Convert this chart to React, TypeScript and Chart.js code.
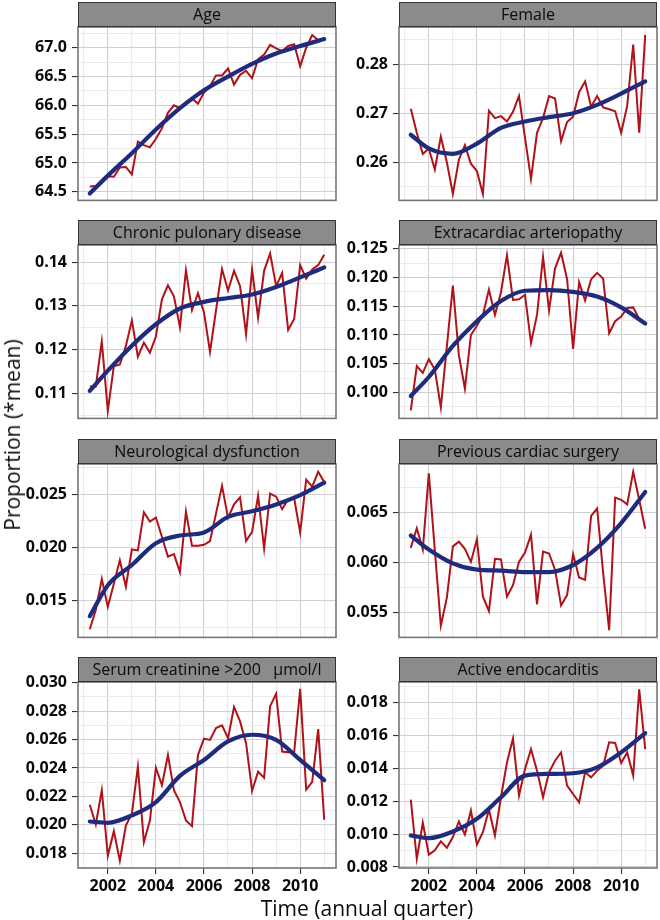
import React, { useEffect, useRef } from 'react';
import { Chart, registerables } from 'chart.js';
Chart.register(...registerables);

// ---------- data ----------
const quarters = [
  2001.25, 2001.5, 2001.75, 2002, 2002.25, 2002.5, 2002.75, 2003, 2003.25, 2003.5,
  2003.75, 2004, 2004.25, 2004.5, 2004.75, 2005, 2005.25, 2005.5, 2005.75, 2006,
  2006.25, 2006.5, 2006.75, 2007, 2007.25, 2007.5, 2007.75, 2008, 2008.25, 2008.5,
  2008.75, 2009, 2009.25, 2009.5, 2009.75, 2010, 2010.25, 2010.5, 2010.75, 2011,
];
const smoothYears = [2001.25, 2002, 2003, 2004, 2005, 2006, 2007, 2008, 2009, 2010, 2011];
const xAllTicks = [2001, 2002, 2003, 2004, 2005, 2006, 2007, 2008, 2009, 2010, 2011];
const xTickLabels = [2002, 2004, 2006, 2008, 2010];

const ageRed = [64.59, 64.60, 64.66, 64.77, 64.76, 64.92, 64.93, 64.80, 65.37, 65.31, 65.27, 65.42, 65.60, 65.87, 66.00, 65.95, 66.05, 66.12, 66.03, 66.22, 66.33, 66.52, 66.52, 66.64, 66.36, 66.53, 66.60, 66.47, 66.80, 66.88, 67.05, 66.99, 66.94, 67.03, 67.06, 66.68, 67.00, 67.22, 67.13, 67.16];
const ageSmooth = [64.47, 64.78, 65.17, 65.58, 65.95, 66.26, 66.50, 66.72, 66.90, 67.03, 67.15];
const ageTicks = [64.5, 65.0, 65.5, 66.0, 66.5, 67.0];

const femaleRed = [0.2709, 0.2660, 0.2617, 0.2628, 0.2585, 0.2652, 0.2600, 0.2535, 0.2605, 0.2635, 0.2597, 0.2582, 0.2535, 0.2705, 0.2690, 0.2694, 0.2683, 0.2703, 0.2735, 0.2650, 0.2566, 0.2660, 0.2690, 0.2735, 0.2730, 0.2643, 0.2682, 0.2693, 0.2743, 0.2765, 0.2713, 0.2735, 0.2712, 0.2708, 0.2704, 0.2660, 0.2715, 0.2840, 0.2660, 0.2860];
const femaleSmooth = [0.2656, 0.2628, 0.2617, 0.2638, 0.2670, 0.2683, 0.2692, 0.2700, 0.2717, 0.2740, 0.2765];
const femaleTicks = [0.26, 0.27, 0.28];

const chronicRed = [0.1116, 0.1116, 0.1219, 0.1060, 0.1162, 0.1166, 0.1208, 0.1267, 0.1184, 0.1216, 0.1193, 0.1230, 0.1315, 0.1347, 0.1322, 0.1251, 0.1381, 0.1290, 0.1329, 0.1285, 0.1195, 0.1290, 0.1384, 0.1335, 0.1380, 0.1345, 0.1235, 0.1383, 0.1273, 0.1380, 0.1420, 0.1345, 0.1375, 0.1245, 0.1270, 0.1393, 0.1362, 0.1383, 0.1393, 0.1417];
const chronicSmooth = [0.1106, 0.1152, 0.1209, 0.1258, 0.1294, 0.1309, 0.1318, 0.1326, 0.1343, 0.1365, 0.1388];
const chronicTicks = [0.11, 0.12, 0.13, 0.14];

const extraRed = [0.0969, 0.1046, 0.1034, 0.1058, 0.1040, 0.0974, 0.1080, 0.1186, 0.1065, 0.1007, 0.1100, 0.1116, 0.1135, 0.1179, 0.1135, 0.1174, 0.1239, 0.1161, 0.1162, 0.1170, 0.1086, 0.1135, 0.1236, 0.1143, 0.1216, 0.1243, 0.1197, 0.1076, 0.1192, 0.1160, 0.1197, 0.1208, 0.1198, 0.1103, 0.1124, 0.1132, 0.1147, 0.1148, 0.1128, 0.1120];
const extraSmooth = [0.0994, 0.1027, 0.1081, 0.1124, 0.1159, 0.1177, 0.1178, 0.1175, 0.1167, 0.1148, 0.1120];
const extraTicks = [0.100, 0.105, 0.110, 0.115, 0.120, 0.125];

const neuroRed = [0.01232, 0.01413, 0.01704, 0.01442, 0.01660, 0.01879, 0.01631, 0.01981, 0.01972, 0.02331, 0.02243, 0.02281, 0.02100, 0.01914, 0.01937, 0.01768, 0.02337, 0.02016, 0.02016, 0.02025, 0.02060, 0.02320, 0.02579, 0.02278, 0.02404, 0.02471, 0.02060, 0.02147, 0.02485, 0.01990, 0.02506, 0.02477, 0.02360, 0.02453, 0.02462, 0.02141, 0.02637, 0.02570, 0.02710, 0.02614];
const neuroSmooth = [0.01354, 0.01646, 0.01835, 0.02040, 0.02112, 0.02141, 0.02287, 0.02340, 0.02404, 0.02491, 0.02608];
const neuroTicks = [0.015, 0.020, 0.025];

const prevRed = [0.06143, 0.06339, 0.06127, 0.06888, 0.06120, 0.05366, 0.05646, 0.06158, 0.06205, 0.06134, 0.06003, 0.06230, 0.05655, 0.05512, 0.06034, 0.06028, 0.05655, 0.05770, 0.06003, 0.06096, 0.06276, 0.05578, 0.06106, 0.06087, 0.05925, 0.05568, 0.05671, 0.06081, 0.05848, 0.05823, 0.06463, 0.06537, 0.05894, 0.05320, 0.06646, 0.06624, 0.06578, 0.06904, 0.06624, 0.06335];
const prevSmooth = [0.06267, 0.06127, 0.05988, 0.05925, 0.05916, 0.05901, 0.05901, 0.05972, 0.06143, 0.06391, 0.06702];
const prevTicks = [0.055, 0.060, 0.065];

const serumRed = [0.02142, 0.02003, 0.02244, 0.01783, 0.01956, 0.01748, 0.01996, 0.02079, 0.02410, 0.01878, 0.02031, 0.02402, 0.02280, 0.02492, 0.02244, 0.02161, 0.02031, 0.01991, 0.02492, 0.02606, 0.02598, 0.02681, 0.02700, 0.02610, 0.02830, 0.02728, 0.02575, 0.02239, 0.02374, 0.02331, 0.02835, 0.02922, 0.02516, 0.02511, 0.02511, 0.02957, 0.02249, 0.02303, 0.02674, 0.02036];
const serumSmooth = [0.02024, 0.02015, 0.02067, 0.02161, 0.02345, 0.02457, 0.02587, 0.02634, 0.02598, 0.02457, 0.02315];
const serumTicks = [0.018, 0.020, 0.022, 0.024, 0.026, 0.028, 0.030];

const endoRed = [0.01210, 0.00850, 0.01069, 0.00875, 0.00901, 0.00956, 0.00917, 0.00982, 0.01077, 0.00998, 0.01143, 0.00937, 0.01012, 0.01150, 0.00992, 0.01224, 0.01436, 0.01582, 0.01234, 0.01396, 0.01517, 0.01386, 0.01224, 0.01376, 0.01446, 0.01497, 0.01295, 0.01244, 0.01194, 0.01376, 0.01345, 0.01386, 0.01416, 0.01558, 0.01554, 0.01432, 0.01497, 0.01356, 0.01881, 0.01517];
const endoSmooth = [0.00992, 0.00976, 0.01016, 0.01093, 0.01224, 0.01356, 0.01366, 0.01370, 0.01406, 0.01497, 0.01614];
const endoTicks = [0.008, 0.010, 0.012, 0.014, 0.016, 0.018];

type PanelDef = {
  title: string;
  red: number[];
  smooth: number[];
  ticks: number[];
  min: number;
  max: number;
  dec: number;
};

const panels: PanelDef[] = [
  { title: 'Age', red: ageRed, smooth: ageSmooth, ticks: ageTicks, min: 64.35, max: 67.36, dec: 1 },
  { title: 'Female', red: femaleRed, smooth: femaleSmooth, ticks: femaleTicks, min: 0.2522, max: 0.2876, dec: 2 },
  { title: 'Chronic pulonary disease', red: chronicRed, smooth: chronicSmooth, ticks: chronicTicks, min: 0.1043, max: 0.1439, dec: 2 },
  { title: 'Extracardiac arteriopathy', red: extraRed, smooth: extraSmooth, ticks: extraTicks, min: 0.0955, max: 0.12565, dec: 3 },
  { title: 'Neurological dysfunction', red: neuroRed, smooth: neuroSmooth, ticks: neuroTicks, min: 0.01156, max: 0.02783, dec: 3 },
  { title: 'Previous cardiac surgery', red: prevRed, smooth: prevSmooth, ticks: prevTicks, min: 0.05248, max: 0.06982, dec: 3 },
  { title: 'Serum creatinine >200   \u00B5mol/l', red: serumRed, smooth: serumSmooth, ticks: serumTicks, min: 0.01697, max: 0.03005, dec: 3 },
  { title: 'Active endocarditis', red: endoRed, smooth: endoSmooth, ticks: endoTicks, min: 0.00794, max: 0.01925, dec: 3 },
];

// ---------- layout ----------
const COL_LEFT = [78, 399];
const ROW_TOP = [2, 220, 439, 657];
const Y_AXIS_W = 70;
const STRIP_H = 25;
const PANEL_W = 258;
const PANEL_H = 186;
const X_AXIS_H = 40;
const RIGHT_PAD = 2;
const FONT = '"Open Sans", "DejaVu Sans", sans-serif';

const RED = '#b0121a';
const BLUE = '#1f2b7d';
const MAJOR_GRID = '#d0d0d0';
const MINOR_GRID = '#ebebeb';

function makeDecor(title: string) {
  return {
    id: 'decor',
    afterDraw(chart: any) {
      const { ctx, chartArea: a } = chart;
      ctx.save();
      // panel border
      ctx.strokeStyle = '#767676';
      ctx.lineWidth = 1.6;
      ctx.strokeRect(a.left, a.top, a.right - a.left, a.bottom - a.top);
      // strip
      ctx.fillStyle = '#8b8b8b';
      ctx.fillRect(a.left, 0, a.right - a.left, STRIP_H);
      ctx.strokeStyle = '#333333';
      ctx.lineWidth = 1;
      ctx.strokeRect(a.left + 0.5, 0.5, a.right - a.left - 1, STRIP_H - 1);
      ctx.fillStyle = '#0a0a0a';
      ctx.font = `16px ${FONT}`;
      ctx.textAlign = 'center';
      ctx.textBaseline = 'middle';
      ctx.fillText(title, (a.left + a.right) / 2, STRIP_H / 2 + 1);
      ctx.restore();
    },
  };
}

function Panel({ def, col, row }: { def: PanelDef; col: number; row: number }) {
  const ref = useRef<HTMLCanvasElement>(null);
  const bottom = row === 3;
  const width = Y_AXIS_W + PANEL_W + RIGHT_PAD;
  const height = STRIP_H + PANEL_H + (bottom ? X_AXIS_H : 2);

  useEffect(() => {
    if (!ref.current) return;
    const step = def.ticks[1] - def.ticks[0];
    const half = step / 2;
    const set = new Set<number>();
    def.ticks.forEach((t) => {
      set.add(+t.toFixed(6));
      set.add(+(t - half).toFixed(6));
      set.add(+(t + half).toFixed(6));
    });
    const yTicks = Array.from(set)
      .filter((v) => v >= def.min && v <= def.max)
      .sort((a, b) => a - b);
    const isMajorY = (v: number) => def.ticks.some((t) => Math.abs(t - v) < half / 10);
    const isMajorX = (v: number) => xTickLabels.some((t) => Math.abs(t - v) < 0.01);

    const chart = new Chart(ref.current, {
      type: 'line',
      data: {
        datasets: [
          {
            data: smoothYears.map((x, i) => ({ x, y: def.smooth[i] })),
            borderColor: BLUE,
            borderWidth: 4.2,
            pointRadius: 0,
            cubicInterpolationMode: 'monotone',
            borderCapStyle: 'round',
            borderJoinStyle: 'round',
            fill: false,
          },
          {
            data: quarters.map((x, i) => ({ x, y: def.red[i] })),
            borderColor: RED,
            borderWidth: 2,
            pointRadius: 0,
            tension: 0,
            fill: false,
          },
        ],
      } as any,
      options: {
        animation: false,
        responsive: false,
        maintainAspectRatio: false,
        events: [],
        layout: { padding: { left: 0, right: RIGHT_PAD, top: STRIP_H, bottom: bottom ? 0 : 2 } },
        plugins: { legend: { display: false }, tooltip: { enabled: false } },
        scales: {
          x: {
            type: 'linear',
            min: 2000.76,
            max: 2011.49,
            afterBuildTicks: (ax: any) => {
              ax.ticks = xAllTicks.map((v) => ({ value: v }));
            },
            afterFit: (ax: any) => {
              ax.height = bottom ? X_AXIS_H : 0;
            },
            grid: {
              color: (c: any) => (isMajorX(c.tick?.value) ? MAJOR_GRID : MINOR_GRID),
              lineWidth: 1.1,
              drawTicks: bottom,
              tickLength: 6,
              tickColor: (c: any) => (isMajorX(c.tick?.value) ? '#333' : 'rgba(0,0,0,0)'),
            },
            border: { display: false },
            ticks: {
              display: bottom,
              autoSkip: false,
              maxRotation: 0,
              padding: 3,
              color: '#0a0a0a',
              font: { family: FONT, size: 16, weight: 'bold' },
              callback: (v: any) => (isMajorX(Number(v)) ? String(Math.round(Number(v))) : ''),
            },
          },
          y: {
            type: 'linear',
            min: def.min,
            max: def.max,
            afterBuildTicks: (ax: any) => {
              ax.ticks = yTicks.map((v) => ({ value: v }));
            },
            afterFit: (ax: any) => {
              ax.width = Y_AXIS_W;
            },
            grid: {
              color: (c: any) => (isMajorY(c.tick?.value) ? MAJOR_GRID : MINOR_GRID),
              lineWidth: 1.1,
              drawTicks: true,
              tickLength: 6,
              tickColor: (c: any) => (isMajorY(c.tick?.value) ? '#333' : 'rgba(0,0,0,0)'),
            },
            border: { display: false },
            ticks: {
              autoSkip: false,
              padding: 5,
              color: '#0a0a0a',
              font: { family: FONT, size: 16, weight: 'bold' },
              callback: (v: any) => (isMajorY(Number(v)) ? Number(v).toFixed(def.dec) : ''),
            },
          },
        },
      } as any,
      plugins: [makeDecor(def.title)],
    });
    return () => chart.destroy();
  }, [def, bottom]);

  return (
    <canvas
      ref={ref}
      width={width}
      height={height}
      style={{
        position: 'absolute',
        left: COL_LEFT[col] - Y_AXIS_W,
        top: ROW_TOP[row],
        width,
        height,
      }}
    />
  );
}

export default function App() {
  return (
    <div
      style={{
        position: 'fixed',
        left: 0,
        top: 0,
        width: 660,
        height: 920,
        background: '#ffffff',
        overflow: 'hidden',
        fontFamily: FONT,
      }}
    >
      {panels.map((p, i) => (
        <Panel key={p.title} def={p} col={i % 2} row={Math.floor(i / 2)} />
      ))}
      <div
        style={{
          position: 'absolute',
          left: 12,
          top: 435,
          transform: 'translate(-50%, -50%) rotate(-90deg)',
          whiteSpace: 'nowrap',
          fontSize: 21,
          fontWeight: 400,
          color: '#0a0a0a',
        }}
      >
        Proportion (*mean)
      </div>
      <div
        style={{
          position: 'absolute',
          left: 367,
          top: 908,
          transform: 'translate(-50%, -50%)',
          whiteSpace: 'nowrap',
          fontSize: 21,
          fontWeight: 400,
          color: '#0a0a0a',
        }}
      >
        Time (annual quarter)
      </div>
    </div>
  );
}
